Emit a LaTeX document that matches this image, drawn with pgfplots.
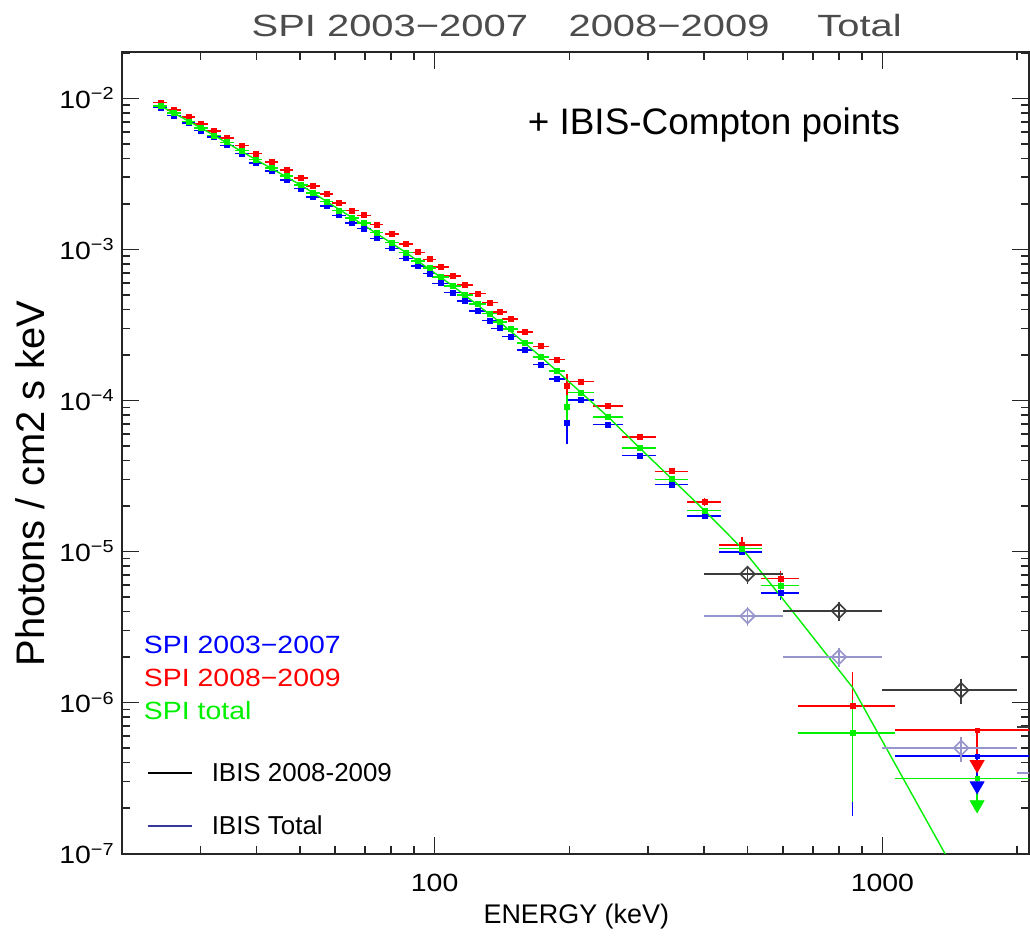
\documentclass[border=0pt]{standalone}
\usepackage{pgfplots}
\pgfplotsset{compat=1.18}
\usepackage{pgfplotstable}
\usepackage{fontspec}
\setmainfont{Liberation Sans}
\newfontfamily\idl{Liberation Sans}[FakeStretch=1.14]
\newfontfamily\idlw{Liberation Sans}[FakeStretch=1.3]
\definecolor{spired}{RGB}{255,0,0}
\definecolor{spiblue}{RGB}{0,0,255}
\definecolor{spigreen}{RGB}{0,240,0}
\definecolor{ibisd}{RGB}{60,60,60}
\definecolor{ibisl}{RGB}{150,150,205}
\definecolor{ibisnavy}{RGB}{55,55,160}

\pgfplotstableread{
E     ex     B        eb    R        er    G        eg
24.41 0.035  8.69e-3  0.02  9.38e-3  0.02  8.92e-3  0.02
26.22 0.035  7.70e-3  0.02  8.39e-3  0.02  7.98e-3  0.02
28.22 0.035  6.86e-3  0.02  7.51e-3  0.02  7.03e-3  0.02
30.11 0.035  6.13e-3  0.02  6.75e-3  0.02  6.36e-3  0.02
32.19 0.035  5.54e-3  0.02  6.10e-3  0.02  5.68e-3  0.02
34.37 0.035  4.88e-3  0.02  5.48e-3  0.02  5.11e-3  0.02
37.11 0.035  4.30e-3  0.02  4.86e-3  0.02  4.50e-3  0.02
39.87 0.035  3.73e-3  0.02  4.30e-3  0.02  3.93e-3  0.02
43.28 0.035  3.29e-3  0.02  3.79e-3  0.02  3.46e-3  0.02
46.74 0.035  2.87e-3  0.02  3.34e-3  0.02  3.05e-3  0.02
50.30 0.035  2.53e-3  0.02  2.955e-3 0.02  2.66e-3  0.02
53.58 0.035  2.23e-3  0.02  2.62e-3  0.02  2.37e-3  0.02
57.40 0.035  1.94e-3  0.02  2.33e-3  0.02  2.07e-3  0.02
61.22 0.035  1.68e-3  0.02  2.02e-3  0.02  1.81e-3  0.02
65.43 0.035  1.49e-3  0.02  1.81e-3  0.02  1.62e-3  0.02
69.49 0.035  1.376e-3 0.02  1.68e-3  0.02  1.49e-3  0.02
74.17 0.035  1.182e-3 0.02  1.46e-3  0.02  1.29e-3  0.02
80.33 0.035  1.015e-3 0.02  1.26e-3  0.02  1.107e-3 0.02
86.40 0.035  8.72e-4  0.02  1.084e-3 0.02  9.51e-4  0.02
91.88 0.035  7.76e-4  0.02  9.55e-4  0.02  8.37e-4  0.02
97.47 0.035  6.91e-4  0.02  8.59e-4  0.02  7.53e-4  0.02
103.1 0.042  5.96e-4  0.02  7.64e-4  0.02  6.56e-4  0.02
109.8 0.042  5.18e-4  0.02  6.66e-4  0.02  5.72e-4  0.02
117.1 0.042  4.56e-4  0.02  5.81e-4  0.02  4.99e-4  0.02
124.7 0.042  3.90e-4  0.02  5.10e-4  0.02  4.34e-4  0.02
133.1 0.042  3.38e-4  0.02  4.45e-4  0.02  3.76e-4  0.02
139.6 0.042  3.00e-4  0.02  3.86e-4  0.02  3.31e-4  0.02
147.7 0.042  2.65e-4  0.02  3.47e-4  0.02  2.96e-4  0.02
159.2 0.042  2.15e-4  0.02  2.84e-4  0.02  2.39e-4  0.02
172.9 0.042  1.73e-4  0.02  2.28e-4  0.02  1.94e-4  0.02
187.9 0.042  1.38e-4  0.02  1.86e-4  0.02  1.565e-4 0.02
197.8 0.008  7.10e-5  0.27  1.246e-4 0.20  9.06e-5  0.20
212.5 0.066  1.008e-4 0.02  1.33e-4  0.02  1.126e-4 0.02
244.1 0.077  6.92e-5  0.02  9.16e-5  0.02  7.78e-5  0.02
287.1 0.088  4.32e-5  0.02  5.72e-5  0.02  4.84e-5  0.02
339.5 0.083  2.77e-5  0.02  3.39e-5  0.03  3.00e-5  0.02
400.8 0.088  1.72e-5  0.03  2.13e-5  0.06  1.865e-5 0.03
486.0 0.110  9.95e-6  0.05  1.10e-5  0.13  1.047e-5 0.04
592.8 0.097  5.31e-6  0.10  6.61e-6  0.12  5.94e-6  0.08
857.5 0.244  6.29e-7  0.72  9.44e-7  0.69  6.29e-7  0.65
}\spi

\pgfplotstableread{
E     F
24.41 8.92e-3
30.11 6.36e-3
39.87 3.93e-3
50.30 2.66e-3
65.43 1.62e-3
86.40 9.51e-4
109.8 5.72e-4
139.6 3.31e-4
172.9 1.94e-4
212.5 1.126e-4
244.1 7.78e-5
287.1 4.84e-5
339.5 3.00e-5
400.8 1.865e-5
486.0 1.047e-5
592.8 5.05e-6
857.5 1.26e-6
1628  4.14e-8
}\model

\newcommand{\tl}[1]{10\textsuperscript{−#1}}

\begin{document}
\begin{tikzpicture}
\begin{axis}[
  at={(0pt,0pt)}, anchor=south west,
  scale only axis, width=455pt, height=402pt,
  xmode=log, ymode=log,
  xmin=20, xmax=2126, ymin=1e-7, ymax=2.03e-2,
  axis line style={line width=1pt, black!85},
  every tick/.style={black!85, line width=0.8pt},
  major tick length=8.5pt, minor tick length=4pt,
  tick align=inside,
  xtick={100,1000}, xticklabels={100,1000},
  minor xtick={20,30,40,50,60,70,80,90,200,300,400,500,600,700,800,900,2000},
  ytick={1e-7,1e-6,1e-5,1e-4,1e-3,1e-2},
  yticklabels={\tl{7},\tl{6},\tl{5},\tl{4},\tl{3},\tl{2}},
  minor ytick={2e-7,3e-7,4e-7,5e-7,6e-7,7e-7,8e-7,9e-7,
               2e-6,3e-6,4e-6,5e-6,6e-6,7e-6,8e-6,9e-6,
               2e-5,3e-5,4e-5,5e-5,6e-5,7e-5,8e-5,9e-5,
               2e-4,3e-4,4e-4,5e-4,6e-4,7e-4,8e-4,9e-4,
               2e-3,3e-3,4e-3,5e-3,6e-3,7e-3,8e-3,9e-3,2e-2},
  xticklabel style={font=\idl\fontsize{12.5}{12.5}\selectfont, anchor=center, yshift=-14.5pt},
  yticklabel style={font=\idl\fontsize{12.5}{12.5}\selectfont, anchor=east},
]
% SPI 2003-2007
\addplot[spiblue, only marks, mark=square*, mark size=1.25pt,
  error bars/.cd, x dir=both, x explicit relative, y dir=both, y explicit relative,
  error mark=none, error bar style={line width=0.8pt, spiblue}]
  table[x=E, y=B, x error=ex, y error=eb] {\spi};
% SPI 2008-2009
\addplot[spired, only marks, mark=square*, mark size=1.25pt,
  error bars/.cd, x dir=both, x explicit relative, y dir=both, y explicit relative,
  error mark=none, error bar style={line width=0.8pt, spired}]
  table[x=E, y=R, x error=ex, y error=er] {\spi};
% SPI total
\addplot[spigreen, only marks, mark=square*, mark size=1.25pt,
  error bars/.cd, x dir=both, x explicit relative, y dir=both, y explicit relative,
  error mark=none, error bar style={line width=0.8pt, spigreen}]
  table[x=E, y=G, x error=ex, y error=eg] {\spi};
% model
\addplot[spigreen, line width=0.7pt, no marks] table[x=E, y=F] {\model};
% upper limits
\addplot[spired, only marks, mark=square*, mark size=1pt,
  error bars/.cd, x dir=both, x explicit relative, y dir=minus, y explicit relative,
  error mark=none, error bar style={line width=0.8pt, spired}]
  coordinates {(1628,6.55e-7) += (0.6,0) -= (0.343,0.37)};
\addplot[spiblue, only marks, mark=square*, mark size=1pt,
  error bars/.cd, x dir=both, x explicit relative, y dir=minus, y explicit relative,
  error mark=none, error bar style={line width=0.8pt, spiblue}]
  coordinates {(1628,4.42e-7) += (0.6,0) -= (0.343,0.32)};
\addplot[spigreen, only marks, mark=square*, mark size=1pt,
  error bars/.cd, x dir=both, x explicit relative, y dir=minus, y explicit relative,
  error mark=none, error bar style={line width=0.8pt, spigreen}]
  coordinates {(1628,3.14e-7) += (0.6,0) -= (0.343,0.29)};
\addplot[spired, only marks, mark=triangle*, mark size=4pt, mark options={rotate=180}]
  coordinates {(1628,3.885e-7)};
\addplot[spiblue, only marks, mark=triangle*, mark size=4pt, mark options={rotate=180}]
  coordinates {(1628,2.81e-7)};
\addplot[spigreen, only marks, mark=triangle*, mark size=4pt, mark options={rotate=180}]
  coordinates {(1628,2.105e-7)};
% IBIS 2008-2009
\addplot[ibisd, only marks, mark=square, mark size=2.6pt, mark options={rotate=45, line width=0.8pt},
  error bars/.cd, x dir=both, x explicit relative, y dir=both, y explicit relative,
  error mark=none, error bar style={line width=0.8pt, ibisd}]
  coordinates {(500,7.08e-6) +- (0.2,0.14) (800,4.04e-6) +- (0.25,0.14)
               (1500,1.205e-6) +- (0.333,0.19) (3000,6.9e-7) +- (0.333,0.19)};
% IBIS total
\addplot[ibisl, only marks, mark=square, mark size=2.6pt, mark options={rotate=45, line width=0.8pt},
  error bars/.cd, x dir=both, x explicit relative, y dir=both, y explicit relative,
  error mark=none, error bar style={line width=0.8pt, ibisl}]
  coordinates {(500,3.74e-6) +- (0.2,0.14) (800,2.0e-6) +- (0.25,0.14)
               (1500,5.0e-7) +- (0.333,0.19) (3000,3.4e-7) +- (0.333,0.19)};
\end{axis}
\begin{scope}[shift={(-61pt,428pt)}, x=0.5pt, y=-0.5pt]
  \path[use as bounding box] (0,0) rectangle (1030,938);
  % title
  \node[font=\idlw\fontsize{15.4}{15.4}\selectfont, text=black!70] at (391,26) {SPI 2003−2007};
  \node[font=\idlw\fontsize{15.4}{15.4}\selectfont, text=black!70] at (671,26) {2008−2009};
  \node[font=\idlw\fontsize{15.4}{15.4}\selectfont, text=black!70] at (862,26) {Total};
  % annotation
  \node[font=\fontsize{18.5}{18.5}\selectfont, anchor=base west, inner sep=0pt] at (529,135) {+ IBIS-Compton points};
  % SPI legend
  \node[font=\idl\fontsize{12.5}{12.5}\selectfont, text=spiblue, anchor=base west, inner sep=0pt] at (144,655) {SPI 2003−2007};
  \node[font=\idl\fontsize{12.5}{12.5}\selectfont, text=spired, anchor=base west, inner sep=0pt] at (144,688) {SPI 2008−2009};
  \node[font=\idl\fontsize{12.5}{12.5}\selectfont, text=spigreen, anchor=base west, inner sep=0pt] at (144,722) {SPI total};
  % IBIS legend
  \draw[black, line width=1pt] (148,775) -- (193,775);
  \node[font=\fontsize{13}{13}\selectfont, anchor=base west, inner sep=0pt] at (212,784) {IBIS 2008-2009};
  \draw[ibisnavy, line width=1pt] (148,828) -- (193,828);
  \node[font=\fontsize{13}{13}\selectfont, anchor=base west, inner sep=0pt] at (212,837) {IBIS Total};
  % axis labels
  \node[font=\fontsize{13.5}{13.5}\selectfont] at (578,919) {ENERGY (keV)};
  \node[font=\fontsize{20}{20}\selectfont, rotate=90] at (30,485) {Photons / cm2 s keV};
\end{scope}
\end{tikzpicture}
\end{document}
